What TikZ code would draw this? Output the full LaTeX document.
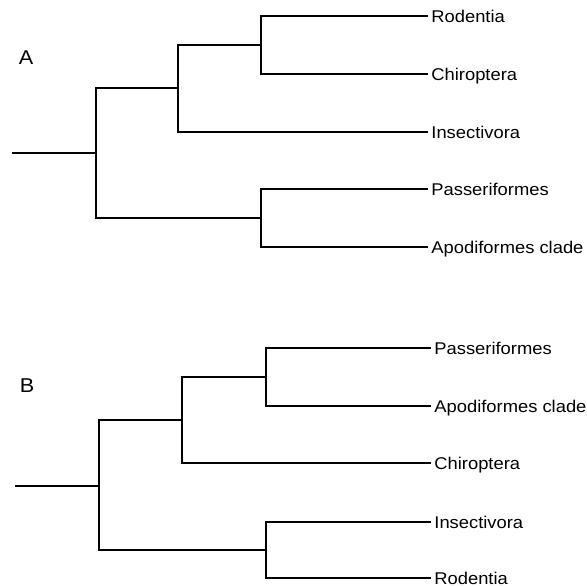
\documentclass[tikz,border=0pt]{standalone}
\usepackage{fontspec}
\setmainfont{Liberation Sans}[FakeStretch=1.08]
\usetikzlibrary{positioning}

\begin{document}
\begin{tikzpicture}[
  x=0.5pt, y=-0.5pt,
  font=\fontsize{8.5}{10}\selectfont,
  br/.style={line width=1.1pt, line cap=rect},
  leaf/.style={anchor=west, inner xsep=2pt, inner ysep=0pt, text height=6pt, text depth=0pt},
  tag/.style={font=\fontsize{10}{12}\selectfont, inner sep=0pt}]

\useasboundingbox (0,0) rectangle (587,585);

% tree A
\node[tag] (tagA) at (26,58) {A};
\coordinate (aRoot) at (13,153);
\coordinate (a1) at (96,153);
\coordinate (a2) at (178,88);
\coordinate (a3) at (261,45);
\coordinate (a4) at (261,218);
\node[leaf] (aRod) at (427,16) {Rodentia};
\node[leaf] (aChi) at (427,74) {Chiroptera};
\node[leaf] (aIns) at (427,132) {Insectivora};
\node[leaf] (aPas) at (427,189) {Passeriformes};
\node[leaf] (aApo) at (427,247) {Apodiformes clade};

\draw[br] (aRoot) -- (a1);
\draw[br] (a1) |- (a2);
\draw[br] (a1) |- (a4);
\draw[br] (a2) |- (a3);
\draw[br] (a2) |- (aIns.west);
\draw[br] (a3) |- (aRod.west);
\draw[br] (a3) |- (aChi.west);
\draw[br] (a4) |- (aPas.west);
\draw[br] (a4) |- (aApo.west);

% tree B
\node[tag] (tagB) at (27,386) {B};
\coordinate (bRoot) at (16,486);
\coordinate (b1) at (99,486);
\coordinate (b2) at (182,420);
\coordinate (b3) at (266,377);
\coordinate (b4) at (266,550);
\node[leaf] (bPas) at (430,348) {Passeriformes};
\node[leaf] (bApo) at (430,406) {Apodiformes clade};
\node[leaf] (bChi) at (430,463) {Chiroptera};
\node[leaf] (bIns) at (430,522) {Insectivora};
\node[leaf] (bRod) at (430,578) {Rodentia};

\draw[br] (bRoot) -- (b1);
\draw[br] (b1) |- (b2);
\draw[br] (b1) |- (b4);
\draw[br] (b2) |- (b3);
\draw[br] (b2) |- (bChi.west);
\draw[br] (b3) |- (bPas.west);
\draw[br] (b3) |- (bApo.west);
\draw[br] (b4) |- (bIns.west);
\draw[br] (b4) |- (bRod.west);
\end{tikzpicture}
\end{document}
